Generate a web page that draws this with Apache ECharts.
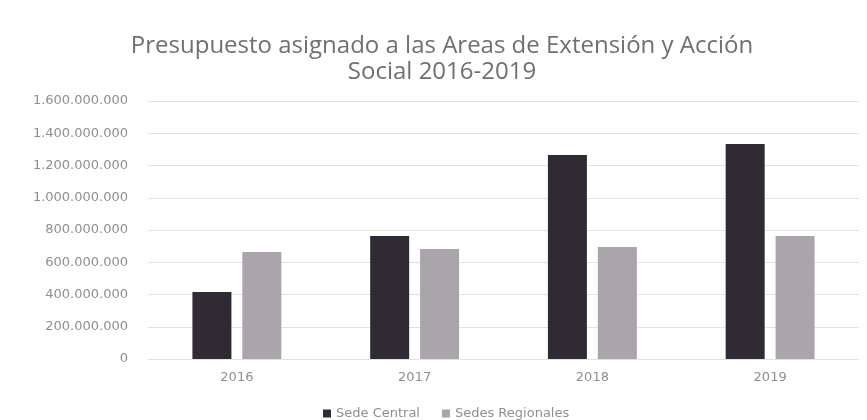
<!DOCTYPE html>
<html><head><meta charset="utf-8">
<script src="https://cdn.jsdelivr.net/npm/echarts@6/dist/echarts.min.js"></script>
<style>html,body{margin:0;padding:0;background:#fff}#c{width:867px;height:420px}</style>
</head><body><div id="c"></div>
<script>
const categories = ['2016', '2017', '2018', '2019'];
const sedeCentral = [415000000, 763000000, 1265000000, 1333000000];
const sedesRegionales = [663000000, 682000000, 695000000, 763000000];
const seriesNames = ['Sede Central', 'Sedes Regionales'];

const fmt = v => String(v).replace(/\B(?=(\d{3})+(?!\d))/g, '.');
const chart = echarts.init(document.getElementById('c'));
chart.setOption({
  backgroundColor: '#ffffff',
  animation: false,
  textStyle: { fontFamily: 'Open Sans' },
  title: {
    text: 'Presupuesto asignado a las Areas de Extensión y Acción\nSocial 2016-2019',
    left: 437, top: 28, textAlign: 'center',
    textStyle: { fontSize: 24, fontWeight: 'normal', color: '#707070', lineHeight: 26, fontFamily: 'Open Sans' }
  },
  legend: {
    data: seriesNames, left: 318, top: 402, itemWidth: 8, itemHeight: 8, itemGap: 22,
    icon: 'rect',
    textStyle: { fontSize: 13, color: '#8f8f8f', fontFamily: 'DejaVu Sans' }
  },
  grid: { left: 148, right: 8, top: 101, bottom: 61, containLabel: false },
  xAxis: {
    type: 'category', data: categories,
    axisLine: { show: false }, axisTick: { show: false },
    axisLabel: { color: '#8f8f8f', fontSize: 13, margin: 12, fontFamily: 'DejaVu Sans' }
  },
  yAxis: {
    type: 'value', min: 0, max: 1600000000, interval: 200000000,
    axisLine: { show: false }, axisTick: { show: false },
    axisLabel: { color: '#8f8f8f', fontSize: 13, margin: 20, formatter: fmt, fontFamily: 'DejaVu Sans' },
    splitLine: { lineStyle: { color: '#e2e2e2' } }
  },
  series: [
    { name: seriesNames[0], type: 'bar', data: sedeCentral, barWidth: 39, barGap: '28%', itemStyle: { color: '#2f2b33' } },
    { name: seriesNames[1], type: 'bar', data: sedesRegionales, barWidth: 39, itemStyle: { color: '#a9a5ab' } }
  ]
});
</script></body></html>
